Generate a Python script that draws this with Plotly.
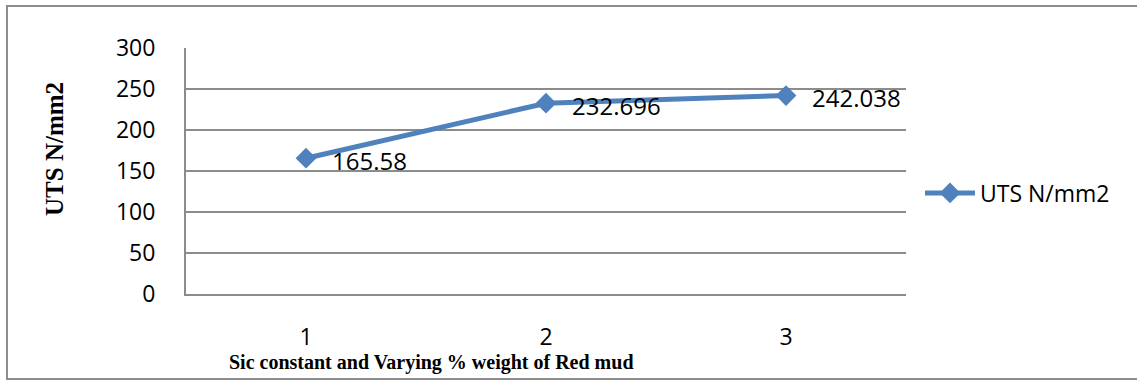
import plotly.graph_objects as go

# Ultimate tensile strength for each sample
samples = [1, 2, 3]
uts_values = [165.58, 232.696, 242.038]
series_name = "UTS N/mm2"
y_ticks = [0, 50, 100, 150, 200, 250, 300]

W, H = 1137, 381
L, R, T, B = 186, 231, 48, 87
PW, PH = W - L - R, H - T - B

def px_x(px):
    return (px - L) / PW

def px_y(py):
    return (H - B - py) / PH

line_color = "#4F81BD"
grid_color = "#8C8C8C"
sans = "Open Sans"
serif = "Liberation Serif"

fig = go.Figure()
fig.add_trace(go.Scatter(
    x=samples, y=uts_values, name=series_name,
    mode="lines+markers",
    line=dict(color=line_color, width=5),
    marker=dict(symbol="diamond", size=16, color=line_color),
))

# Value labels beside each point
for xv, yv in zip(samples, uts_values):
    fig.add_annotation(
        x=xv, y=yv, text=f"{yv:g}", showarrow=False,
        xanchor="left", yanchor="middle", xshift=24, yshift=-2,
        font=dict(family=sans, size=24, color="black"),
    )

# Axis titles
fig.add_annotation(
    x=px_x(431), y=px_y(362), xref="paper", yref="paper",
    text="<b>Sic constant and Varying % weight of Red mud</b>",
    showarrow=False, xanchor="center", yanchor="middle",
    font=dict(family=serif, size=20, color="black"),
)
fig.add_annotation(
    x=px_x(54), y=px_y(149), xref="paper", yref="paper",
    text="<b>UTS N/mm2</b>", textangle=-90,
    showarrow=False, xanchor="center", yanchor="middle",
    font=dict(family=serif, size=25, color="black"),
)

# Outer chart border
fig.add_shape(
    type="rect", xref="paper", yref="paper",
    x0=px_x(7), x1=px_x(1145), y0=px_y(379), y1=px_y(6),
    line=dict(color="#8C8C8C", width=2), fillcolor="rgba(0,0,0,0)",
    layer="below",
)

fig.update_layout(
    width=W, height=H,
    margin=dict(l=L, r=R, t=T, b=B, pad=0),
    paper_bgcolor="white", plot_bgcolor="white",
    showlegend=True,
    legend=dict(
        x=px_x(920), y=px_y(193), xanchor="left", yanchor="middle",
        font=dict(family=sans, size=23, color="black"),
        bgcolor="rgba(0,0,0,0)", itemwidth=50,
    ),
    xaxis=dict(
        range=[0.5, 3.5], tickvals=samples, ticktext=[str(s) for s in samples],
        showgrid=False, zeroline=False,
        showline=True, linecolor=grid_color, linewidth=2,
        ticks="", ticklabelstandoff=21,
        tickfont=dict(family=sans, size=23, color="black"),
    ),
    yaxis=dict(
        range=[0, 300], tickvals=y_ticks,
        showgrid=True, gridcolor=grid_color, gridwidth=2,
        zeroline=False,
        showline=True, linecolor=grid_color, linewidth=2,
        ticks="", ticklabelstandoff=24,
        tickfont=dict(family=sans, size=23, color="black"),
    ),
)

fig.write_html("out.html")
